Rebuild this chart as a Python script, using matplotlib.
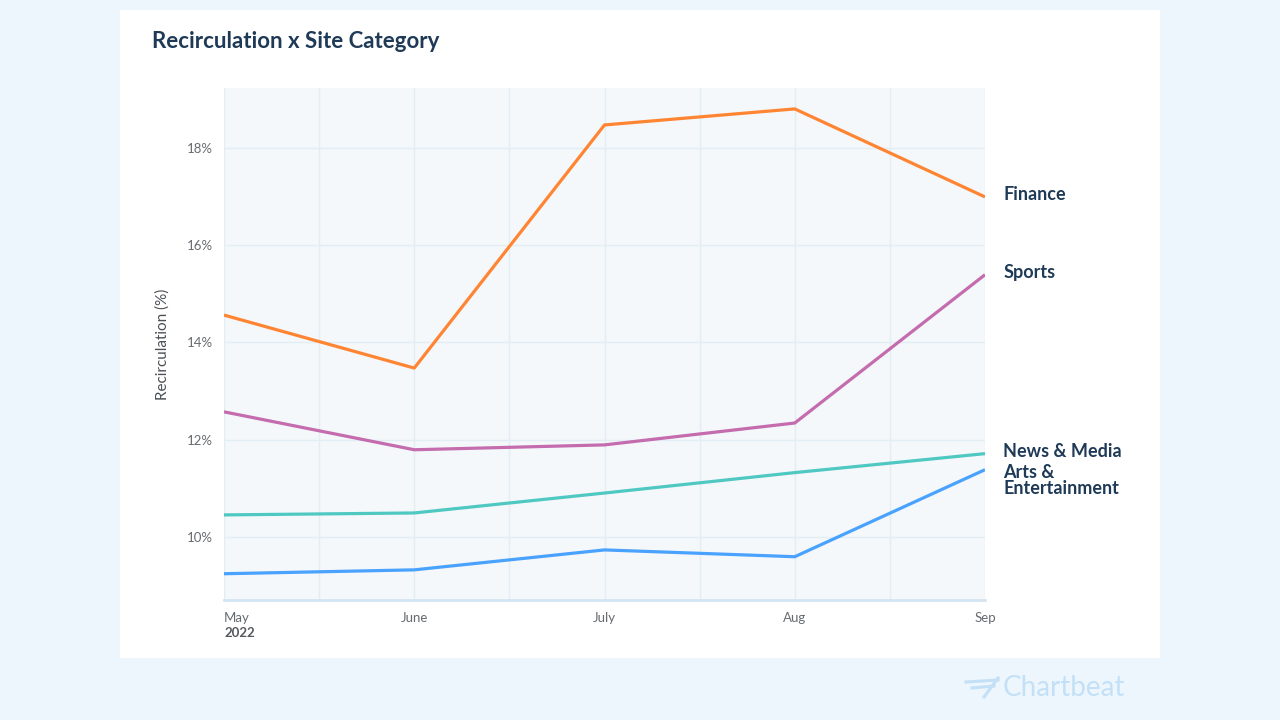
import matplotlib
matplotlib.use("Agg")
import matplotlib.pyplot as plt
import numpy as np

months = ["May", "June", "July", "Aug", "Sep"]
finance = [14.56, 13.47, 18.47, 18.80, 16.99]
sports = [12.57, 11.79, 11.89, 12.34, 15.39]
news_media = [10.45, 10.49, 10.90, 11.32, 11.71]
arts_ent = [9.24, 9.32, 9.73, 9.59, 11.38]
series = [
    ("Finance", finance, "#ff8533"),
    ("Sports", sports, "#c46cae"),
    ("News & Media", news_media, "#4fc8c2"),
    ("Arts &\nEntertainment", arts_ent, "#4aa2ff"),
]
yticks = [10, 12, 14, 16, 18]

BG = "#eef6fd"; NAVY = "#1f3a57"; GREY = "#666b70"
plt.rcParams["font.family"] = ["Lato", "DejaVu Sans"]

W, H = 1280, 720
fig = plt.figure(figsize=(12.8, 7.2), dpi=100)
fig.patch.set_facecolor(BG)
# white card
fig.add_artist(plt.Rectangle((120 / W, 1 - 658 / H), 1040 / W, 648 / H,
                             transform=fig.transFigure, fc="white", ec="none", zorder=0))

ax = fig.add_axes([224 / W, 1 - 600 / H, 761 / W, 512 / H])
ax.set_facecolor("#f4f8fb")
x = np.arange(len(months))
for name, vals, col in series:
    ax.plot(x, vals, color=col, lw=2.3, solid_capstyle="butt", zorder=3)

ax.set_xlim(0, 4)
ax.set_ylim(8.70, 19.23)
ax.set_yticks(yticks)
ax.set_yticklabels([f"{v}%" for v in yticks], fontsize=9.5, color=GREY)
ax.set_xticks(x)
ax.set_xticklabels(months, fontsize=9.5, color=GREY)
ax.get_xticklabels()[0].set_ha("left")
ax.set_xticks(np.arange(0.5, 4, 1), minor=True)
ax.tick_params(which="both", length=0)
ax.tick_params(axis="x", pad=9)
ax.tick_params(axis="y", pad=8)
ax.grid(True, which="both", color="#e3edf4", lw=1, zorder=0)
for s in ("top", "right", "left"):
    ax.spines[s].set_visible(False)
ax.spines["bottom"].set_color("#d3e5f2"); ax.spines["bottom"].set_linewidth(2)
ax.set_ylabel("Recirculation (%)", fontsize=11, color="#4a4f55", labelpad=12)

ax.text(0, -0.052, "2022", transform=ax.transAxes, fontsize=9.5, color="#555a5f",
        fontweight="bold", ha="left", va="top")

# end labels
for name, vals, col in series:
    yv = vals[-1]
    if name.startswith("Arts"):
        ax.text(4.095, yv + 0.12, name, fontsize=13, color=NAVY, fontweight="bold",
                ha="left", va="top", linespacing=0.95, clip_on=False)
    else:
        ax.text(4.095, yv + 0.04, name, fontsize=13, color=NAVY, fontweight="bold",
                ha="left", va="center", clip_on=False)

fig.text(152 / W, 1 - 42 / H, "Recirculation x Site Category", fontsize=16,
         color=NAVY, fontweight="bold", ha="left", va="center")
fig.text(1125 / W, 1 - 688 / H, "Chartbeat", fontsize=20, color="#c3e0f6",
         ha="right", va="center")
# logo mark
for i, (x0, x1) in enumerate([(966, 998), (972, 994)]):
    fig.add_artist(plt.Line2D([x0 / W, x1 / W], [1 - (682 + i * 6) / H, 1 - (680 + i * 6) / H],
                              color="#c3e0f6", lw=2.2, transform=fig.transFigure))
fig.add_artist(plt.Line2D([998 / W, 984 / W], [1 - 678 / H, 1 - 697 / H],
                          color="#c3e0f6", lw=2.2, transform=fig.transFigure))

fig.savefig("out.png", dpi=100, facecolor=fig.get_facecolor())
